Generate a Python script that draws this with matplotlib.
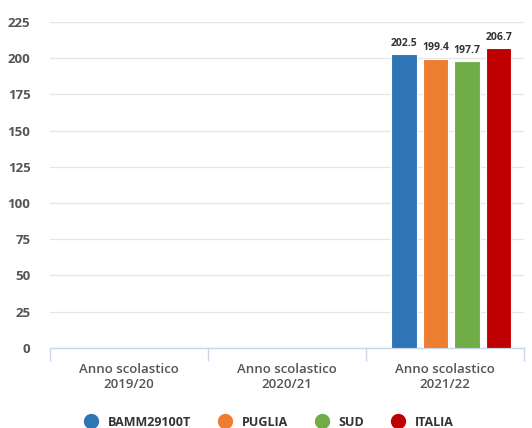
import numpy as np
import matplotlib
matplotlib.use("Agg")
import matplotlib.pyplot as plt
from matplotlib.lines import Line2D

plt.rcParams['font.family'] = ['Open Sans', 'DejaVu Sans']

categories = ["Anno scolastico\n2019/20", "Anno scolastico\n2020/21", "Anno scolastico\n2021/22"]
series = ["BAMM29100T", "PUGLIA", "SUD", "ITALIA"]
values = {
    "BAMM29100T": [np.nan, np.nan, 202.5],
    "PUGLIA":     [np.nan, np.nan, 199.4],
    "SUD":        [np.nan, np.nan, 197.7],
    "ITALIA":     [np.nan, np.nan, 206.7],
}
colors = ["#2e75b6", "#ed7d31", "#70ad47", "#c00000"]
yticks = list(range(0, 226, 25))

fig = plt.figure(figsize=(5.32, 4.28), dpi=100)
ax = fig.add_axes([0.094, 0.187, 0.891, 0.762])

x = np.arange(len(categories))
w = 0.16
step = 0.2
for i, (name, c) in enumerate(zip(series, colors)):
    vals = np.array(values[name])
    pos = x + (i - 1.5) * step + 0.04
    ax.bar(pos, vals, w, color=c, edgecolor="white", linewidth=0.8, zorder=3)
    for p, v in zip(pos, vals):
        if not np.isnan(v):
            ax.text(p, v + 4, f"{v:.1f}", ha="center", va="bottom",
                    fontsize=7.5, fontweight="bold", color="#333333", zorder=4)

ax.set_xlim(-0.5, 2.5)
ax.set_ylim(0, 225)
ax.set_yticks(yticks)
ax.set_yticklabels([str(t) for t in yticks], fontsize=9.5, color="#555555", fontweight="bold")
ax.tick_params(axis="y", length=0, pad=14)
ax.grid(axis="y", color="#e6e6e6", linewidth=0.9, zorder=0)
for s in ["top", "right", "left"]:
    ax.spines[s].set_visible(False)
ax.spines["bottom"].set_color("#ccd6eb")
ax.spines["bottom"].set_linewidth(1.0)

ax.set_xticks(x)
ax.set_xticklabels(categories, fontsize=9.5, color="#555555", fontweight="semibold",
                   linespacing=1.15)
ax.tick_params(axis="x", length=0, pad=11)
ax.set_xticks([-0.5, 0.5, 1.5, 2.5], minor=True)
ax.tick_params(axis="x", which="minor", length=9, color="#ccd6eb", width=1.0)

handles = [Line2D([0], [0], marker="o", linestyle="", markersize=10,
                  markerfacecolor=c, markeredgecolor=c) for c in colors]
fig.legend(handles, series, loc="lower center", bbox_to_anchor=(0.5, -0.028), ncol=4,
           frameon=False, handletextpad=0.35, columnspacing=1.7,
           prop={"size": 9, "weight": "bold"}, labelcolor="#333333")

fig.savefig("out.png", dpi=100)
